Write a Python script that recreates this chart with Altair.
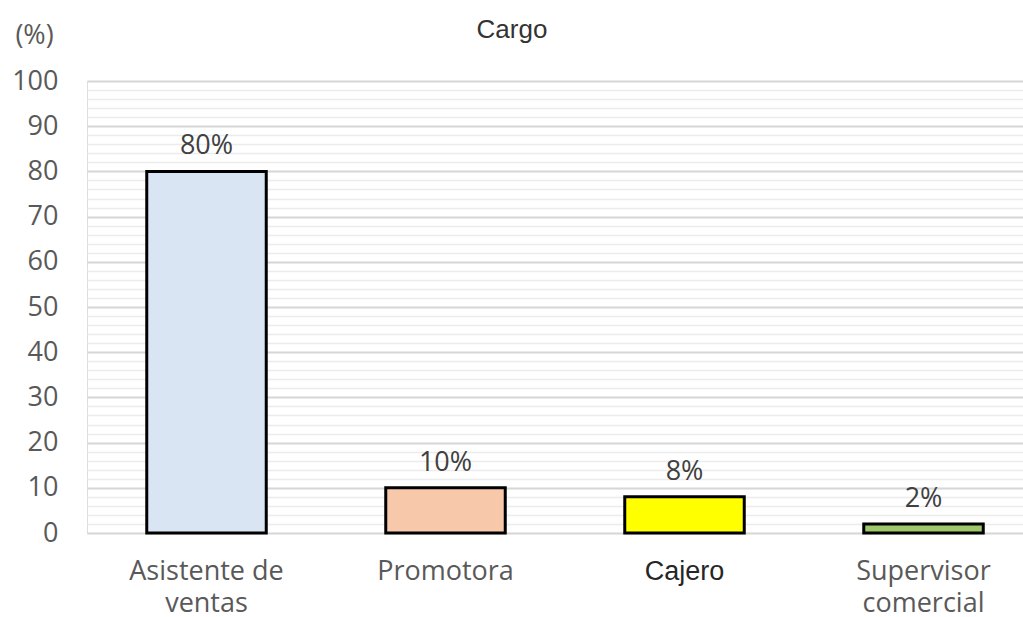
import altair as alt
import pandas as pd

categories = ["Asistente de ventas", "Promotora", "Cajero", "Supervisor comercial"]
values = [80, 10, 8, 2]
colors = ["#dae5f3", "#f7c9aa", "#ffff00", "#9dc96b"]

df = pd.DataFrame({"cargo": categories, "pct": values, "color": colors})

label_expr = (
    "datum.label == 'Asistente de ventas' ? ['Asistente de', 'ventas'] : "
    "datum.label == 'Supervisor comercial' ? ['Supervisor', 'comercial'] : datum.label"
)

x = alt.X(
    "cargo:N",
    sort=categories,
    title=None,
    scale=alt.Scale(range=[0, 956], paddingInner=0.5, paddingOuter=0.25),
    axis=alt.Axis(
        labelExpr=label_expr,
        labelAngle=0,
        labelFont=alt.condition("datum.value == 'Cajero'", alt.value("Liberation Sans"), alt.value("Open Sans")),
        labelColor=alt.condition("datum.value == 'Cajero'", alt.value("#262626"), alt.value("#595959")),
        labelFontSize=27,
        labelLineHeight=32,
        labelPadding=25,
        ticks=False,
        domain=False,
        grid=False,
    ),
)

y = alt.Y(
    "pct:Q",
    scale=alt.Scale(domain=[0, 100], nice=False),
    axis=alt.Axis(
        values=list(range(0, 101, 2)),
        tickCount=60,
        labelOverlap=False,
        labelExpr="datum.value % 10 == 0 ? datum.label : ''",
        labelFont="Open Sans",
        labelFontSize=27,
        labelColor="#595959",
        labelPadding=29,
        ticks=False,
        domain=False,
        gridColor=alt.condition("datum.value % 10 == 0", alt.value("#d6d6d6"), alt.value("#ececec")),
        gridWidth=alt.condition("datum.value % 10 == 0", alt.value(2), alt.value(1.5)),
        title="(%)",
        titleAngle=0,
        titleFont="Open Sans",
        titleFontSize=27,
        titleFontWeight="normal",
        titleColor="#595959",
        titleAlign="center",
        titleBaseline="middle",
        titleX=-53,
        titleY=-46,
    ),
)

bars = alt.Chart(df).mark_bar(stroke="black", strokeWidth=3).encode(
    x=x,
    y=y,
    color=alt.Color("color:N", scale=None),
)

text = alt.Chart(df).transform_calculate(
    lbl="datum.pct + '%'"
).mark_text(
    baseline="bottom", dy=-11, font="Open Sans", fontSize=27, color="#404040"
).encode(
    x=alt.X("cargo:N", sort=categories),
    y=alt.Y("pct:Q"),
    text="lbl:N",
)

chart = alt.layer(bars, text).properties(
    width=936,
    height=452,
    autosize=alt.AutoSizeParams(type="none"),
    padding={"left": 87, "top": 81, "right": 0, "bottom": 84},
    title=alt.TitleParams(
        "Cargo",
        anchor="middle",
        font="Liberation Sans",
        fontSize=26,
        fontWeight="normal",
        color="#333333",
        dx=-43,
        offset=-35,
        baseline="middle",
    ),
).configure_view(stroke=None).configure(background="white")

chart.save("out.html", embed_options={"renderer": "svg", "actions": False})
